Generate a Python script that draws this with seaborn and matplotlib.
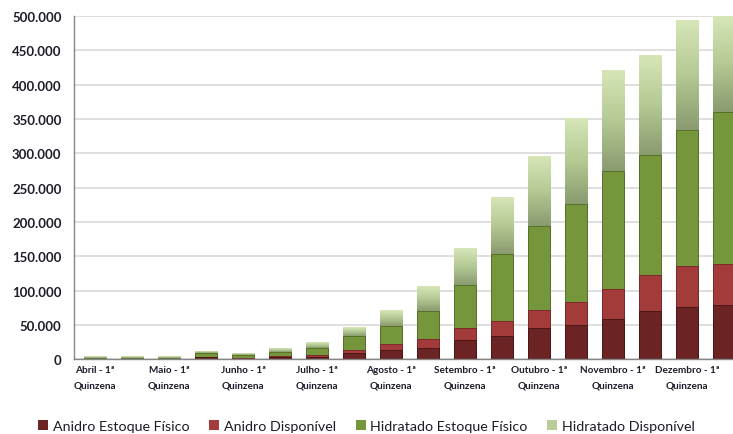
import numpy as np
import pandas as pd
import matplotlib
matplotlib.use("Agg")
import matplotlib.pyplot as plt
from matplotlib.patches import Patch
from matplotlib.colors import LinearSegmentedColormap
import seaborn as sns

# Quinzenas (first and second half of each month)
months = ["Abril", "Maio", "Junho", "Julho", "Agosto",
          "Setembro", "Outubro", "Novembro", "Dezembro"]
periods = [f"{m} - {q}ª Quinzena" for m in months for q in (1, 2)]
tick_labels = [f"{m} - 1ª\nQuinzena" for m in months]

# Stock volumes per quinzena (m³)
anidro_estoque = [0, 0, 0, 2500, 500, 2900, 3400, 8700, 13600, 15600,
                  27700, 34000, 44700, 49600, 58000, 70000, 76000, 79000]
anidro_disp = [0, 0, 0, 1400, 500, 1900, 2400, 4900, 8300, 14500,
               17000, 21900, 27300, 33000, 44000, 53000, 60000, 59500]
hidratado_estoque = [1500, 2400, 2400, 4400, 5300, 5800, 9800, 20400, 25800, 40300,
                     63300, 97100, 122000, 143400, 171600, 175000, 198000, 221500]
hidratado_disp = [1800, 1500, 1500, 2900, 2000, 5000, 8700, 12000, 22700, 35600,
                  53000, 82700, 101000, 124000, 146400, 145000, 159000, 139000]

series_names = ["Anidro Estoque Físico", "Anidro Disponível",
                "Hidratado Estoque Físico", "Hidratado Disponível"]
colors = ["#6B2323", "#A33B3B", "#76963C", "#B9CD98"]
edges = ["#4A1616", "#7A2A2A", "#56702A", "#8E9E74"]

df = pd.DataFrame({
    "periodo": periods,
    "ae": anidro_estoque,
    "ad": anidro_disp,
    "he": hidratado_estoque,
    "hd": hidratado_disp,
})
df["c1"] = df["ae"]
df["c2"] = df["c1"] + df["ad"]
df["c3"] = df["c2"] + df["he"]
df["c4"] = df["c3"] + df["hd"]

sns.set_theme(style="white")
plt.rcParams["font.family"] = ["Lato", "DejaVu Sans"]

fig = plt.figure(figsize=(7.33, 4.35), dpi=100)
ax = fig.add_axes([0.101, 0.172, 0.899, 0.789])

# Stacked bars: draw cumulative totals from the top layer down
for col, c, e in zip(["c4", "c3", "c2", "c1"], colors[::-1], edges[::-1]):
    sns.barplot(data=df, x="periodo", y=col, order=periods, color=c,
                width=0.6, edgecolor=e, linewidth=0.7, saturation=1,
                ax=ax, zorder=2)

# Vertical shading of the "Hidratado Disponível" segments
grad_cmap = LinearSegmentedColormap.from_list(
    "hd", ["#8A9B70", "#B4C993", "#D6E6B8"])
grad = np.linspace(0, 1, 64).reshape(-1, 1)
for i, (lo, hi) in enumerate(zip(df["c3"], df["c4"])):
    if hi - lo <= 0:
        continue
    ax.imshow(grad, extent=(i - 0.3, i + 0.3, lo, hi), origin="lower",
              aspect="auto", cmap=grad_cmap, zorder=2.5, interpolation="bilinear")

ax.set_xlim(-0.57, 17.24)
ax.set_ylim(0, 500000)
ax.set_yticks(np.arange(0, 500001, 50000))
ax.set_yticklabels([f"{v:,.0f}".replace(",", ".") for v in np.arange(0, 500001, 50000)],
                   fontsize=9.5, fontweight="bold", color="#1C1C2A")
ax.set_xticks(range(0, 18, 2))
ax.set_xticklabels(tick_labels, fontsize=7.2, fontweight="bold", color="#1C1C2A",
                   linespacing=1.9)
ax.tick_params(axis="both", length=0, pad=4)
ax.tick_params(axis="y", pad=9)
ax.set_xlabel("")
ax.set_ylabel("")

ax.grid(axis="y", color="#D9D9D9", linewidth=1.2, zorder=0)
ax.set_axisbelow(True)
for side in ["top", "right"]:
    ax.spines[side].set_visible(False)
ax.spines["left"].set_color("#868686")
ax.spines["bottom"].set_color("#868686")
ax.spines["left"].set_linewidth(1.0)
ax.spines["bottom"].set_linewidth(1.0)

handles = [Patch(facecolor=c, edgecolor="none") for c in colors]
fig.legend(handles, series_names, loc="lower center", bbox_to_anchor=(0.5, -0.024),
           ncol=4, frameon=False, fontsize=10.3, handlelength=0.7, handleheight=0.7,
           handletextpad=0.3, columnspacing=1.4, labelcolor="#1C1C2A")

fig.savefig("out.png", dpi=100)
